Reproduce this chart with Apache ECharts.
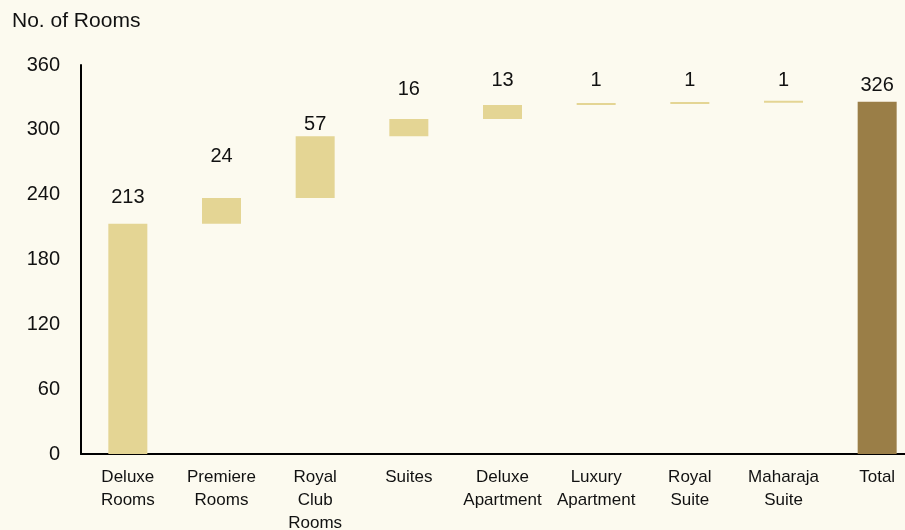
<!DOCTYPE html>
<html>
<head>
<meta charset="utf-8">
<script src="https://cdn.jsdelivr.net/npm/echarts@6/dist/echarts.min.js"></script>
<style>
  html, body { margin: 0; padding: 0; background: #fcfaef; }
  #chart { width: 905px; height: 530px; }
</style>
</head>
<body>
<div id="chart"></div>
<script>
const categories = [
  "Deluxe\nRooms", "Premiere\nRooms", "Royal\nClub\nRooms", "Suites",
  "Deluxe\nApartment", "Luxury\nApartment", "Royal\nSuite", "Maharaja\nSuite", "Total"
];
const roomCounts = [213, 24, 57, 16, 13, 1, 1, 1];
const totalRooms = 326;
const yTicks = [0, 60, 120, 180, 240, 300, 360];

// running base for the floating bars
const bases = [];
let run = 0;
roomCounts.forEach(v => { bases.push(run); run += v; });
bases.push(0);
const values = roomCounts.concat([totalRooms]);

// extra lift of each value label above its bar
const labelGap = [16, 31, 2, 20, 14, 12, 11, 10, 6];

const myChart = echarts.init(document.getElementById("chart"));

const option = {
  backgroundColor: "#fcfaef",
  animation: false,
  textStyle: { fontFamily: "Liberation Sans, Arial, sans-serif" },
  title: {
    text: "No. of Rooms",
    left: 7,
    top: 6,
    textStyle: { fontSize: 21, fontWeight: "normal", color: "#111", fontFamily: "Liberation Sans" }
  },
  grid: { left: 81, right: -19, top: 65, bottom: 76, outerBoundsMode: "none" },
  xAxis: {
    type: "category",
    data: categories,
    axisLine: { lineStyle: { color: "#000", width: 2 } },
    axisTick: { show: false },
    axisLabel: { color: "#111", fontSize: 17, lineHeight: 23, margin: 12, interval: 0, fontFamily: "Liberation Sans" }
  },
  yAxis: {
    type: "value",
    min: yTicks[0],
    max: yTicks[yTicks.length - 1],
    interval: 60,
    axisLine: { show: true, lineStyle: { color: "#000", width: 2 } },
    axisTick: { show: false },
    splitLine: { show: false },
    axisLabel: { color: "#111", fontSize: 20, margin: 21, fontFamily: "Liberation Sans" }
  },
  series: [
    {
      type: "bar",
      stack: "wf",
      data: bases,
      itemStyle: { color: "transparent" },
      silent: true
    },
    {
      type: "bar",
      stack: "wf",
      barWidth: 39,
      barMinHeight: 2,
      data: values.map((v, i) => ({
        value: v,
        itemStyle: { color: i === values.length - 1 ? "#9a7e47" : "#e4d594" },
        label: { distance: labelGap[i] }
      })),
      label: {
        show: true,
        position: "top",
        color: "#111",
        fontSize: 20,
        fontFamily: "Liberation Sans"
      }
    }
  ]
};

myChart.setOption(option);
</script>
</body>
</html>
